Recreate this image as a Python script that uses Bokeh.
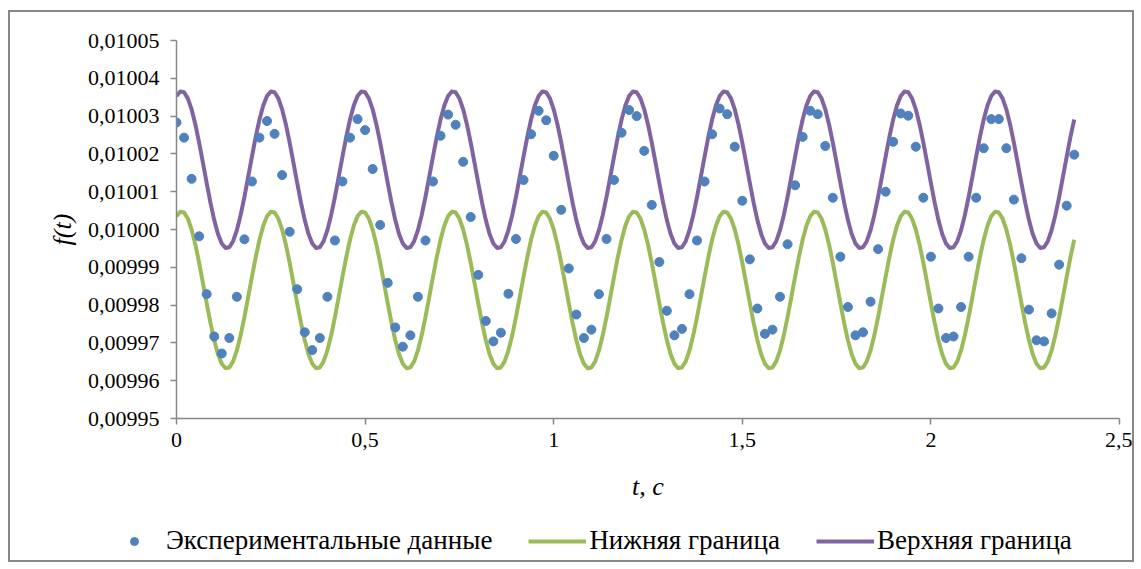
import numpy as np
from bokeh.plotting import figure
from bokeh.layouts import column
from bokeh.models import (Range1d, FixedTicker, CustomJSTickFormatter,
                          Legend, LegendItem, ColumnDataSource)
from bokeh.embed import file_html
from bokeh.resources import INLINE

# ---------------- data ----------------
t_points = np.round(np.arange(0, 2.381, 0.02), 2)   # experimental sample times, s
f_points = [
    0.0100283, 0.0100243, 0.0100134, 0.0099982, 0.0099829, 0.0099717, 0.0099672, 0.0099713, 0.0099822, 0.0099974,
    0.0100127, 0.0100243, 0.0100287, 0.0100253, 0.0100144, 0.0099994, 0.0099842, 0.0099728, 0.0099681, 0.0099713,
    0.0099822, 0.0099971, 0.0100127, 0.0100243, 0.0100292, 0.0100263, 0.0100160, 0.0100012, 0.0099859, 0.0099741,
    0.0099690, 0.0099720, 0.0099822, 0.0099971, 0.0100127, 0.0100248, 0.0100304, 0.0100277, 0.0100179, 0.0100033,
    0.0099880, 0.0099758, 0.0099704, 0.0099727, 0.0099830, 0.0099975, 0.0100131, 0.0100252, 0.0100314, 0.0100289,
    0.0100195, 0.0100052, 0.0099897, 0.0099775, 0.0099713, 0.0099735, 0.0099829, 0.0099975, 0.0100131, 0.0100256,
    0.0100316, 0.0100300, 0.0100208, 0.0100065, 0.0099914, 0.0099785, 0.0099720, 0.0099737, 0.0099829, 0.0099971,
    0.0100127, 0.0100252, 0.0100320, 0.0100305, 0.0100219, 0.0100076, 0.0099921, 0.0099791, 0.0099724, 0.0099735,
    0.0099822, 0.0099961, 0.0100117, 0.0100245, 0.0100314, 0.0100305, 0.0100221, 0.0100084, 0.0099928, 0.0099795,
    0.0099720, 0.0099728, 0.0099809, 0.0099948, 0.0100100, 0.0100232, 0.0100307, 0.0100301, 0.0100219, 0.0100084,
    0.0099928, 0.0099791, 0.0099713, 0.0099717, 0.0099795, 0.0099928, 0.0100084, 0.0100215, 0.0100292, 0.0100292,
    0.0100215, 0.0100079, 0.0099924, 0.0099788, 0.0099707, 0.0099704, 0.0099778, 0.0099907, 0.0100063, 0.0100198,
]

t_line = np.round(np.arange(0, 2.381, 0.01), 2)      # boundary curve times, s
f_upper = [
    0.0100353, 0.0100365, 0.0100363, 0.0100347, 0.0100318, 0.0100278, 0.0100230, 0.0100177, 0.0100123, 0.0100071, 0.0100025, 0.0099988,
    0.0099963, 0.0099951, 0.0099953, 0.0099969, 0.0099998, 0.0100038, 0.0100086, 0.0100139, 0.0100193, 0.0100245, 0.0100291, 0.0100328,
    0.0100353, 0.0100365, 0.0100363, 0.0100347, 0.0100318, 0.0100278, 0.0100230, 0.0100177, 0.0100123, 0.0100071, 0.0100025, 0.0099988,
    0.0099963, 0.0099951, 0.0099953, 0.0099969, 0.0099998, 0.0100038, 0.0100086, 0.0100139, 0.0100193, 0.0100245, 0.0100291, 0.0100328,
    0.0100353, 0.0100365, 0.0100363, 0.0100347, 0.0100318, 0.0100278, 0.0100230, 0.0100177, 0.0100123, 0.0100071, 0.0100025, 0.0099988,
    0.0099963, 0.0099951, 0.0099953, 0.0099969, 0.0099998, 0.0100038, 0.0100086, 0.0100139, 0.0100193, 0.0100245, 0.0100291, 0.0100328,
    0.0100353, 0.0100365, 0.0100363, 0.0100347, 0.0100318, 0.0100278, 0.0100230, 0.0100177, 0.0100123, 0.0100071, 0.0100025, 0.0099988,
    0.0099963, 0.0099951, 0.0099953, 0.0099969, 0.0099998, 0.0100038, 0.0100086, 0.0100139, 0.0100193, 0.0100245, 0.0100291, 0.0100328,
    0.0100353, 0.0100365, 0.0100363, 0.0100347, 0.0100318, 0.0100278, 0.0100230, 0.0100177, 0.0100123, 0.0100071, 0.0100025, 0.0099988,
    0.0099963, 0.0099951, 0.0099953, 0.0099969, 0.0099998, 0.0100038, 0.0100086, 0.0100139, 0.0100193, 0.0100245, 0.0100291, 0.0100328,
    0.0100353, 0.0100365, 0.0100363, 0.0100347, 0.0100318, 0.0100278, 0.0100230, 0.0100177, 0.0100123, 0.0100071, 0.0100025, 0.0099988,
    0.0099963, 0.0099951, 0.0099953, 0.0099969, 0.0099998, 0.0100038, 0.0100086, 0.0100139, 0.0100193, 0.0100245, 0.0100291, 0.0100328,
    0.0100353, 0.0100365, 0.0100363, 0.0100347, 0.0100318, 0.0100278, 0.0100230, 0.0100177, 0.0100123, 0.0100071, 0.0100025, 0.0099988,
    0.0099963, 0.0099951, 0.0099953, 0.0099969, 0.0099998, 0.0100038, 0.0100086, 0.0100139, 0.0100193, 0.0100245, 0.0100291, 0.0100328,
    0.0100353, 0.0100365, 0.0100363, 0.0100347, 0.0100318, 0.0100278, 0.0100230, 0.0100177, 0.0100123, 0.0100071, 0.0100025, 0.0099988,
    0.0099963, 0.0099951, 0.0099953, 0.0099969, 0.0099998, 0.0100038, 0.0100086, 0.0100139, 0.0100193, 0.0100245, 0.0100291, 0.0100328,
    0.0100353, 0.0100365, 0.0100363, 0.0100347, 0.0100318, 0.0100278, 0.0100230, 0.0100177, 0.0100123, 0.0100071, 0.0100025, 0.0099988,
    0.0099963, 0.0099951, 0.0099953, 0.0099969, 0.0099998, 0.0100038, 0.0100086, 0.0100139, 0.0100193, 0.0100245, 0.0100291, 0.0100328,
    0.0100353, 0.0100365, 0.0100363, 0.0100347, 0.0100318, 0.0100278, 0.0100230, 0.0100177, 0.0100123, 0.0100071, 0.0100025, 0.0099988,
    0.0099963, 0.0099951, 0.0099953, 0.0099969, 0.0099998, 0.0100038, 0.0100086, 0.0100139, 0.0100193, 0.0100245, 0.0100291,
]
f_lower = [
    0.0100035, 0.0100047, 0.0100045, 0.0100029, 0.0100000, 0.0099960, 0.0099912, 0.0099859, 0.0099805, 0.0099753, 0.0099707, 0.0099670,
    0.0099645, 0.0099633, 0.0099635, 0.0099651, 0.0099680, 0.0099720, 0.0099768, 0.0099821, 0.0099875, 0.0099927, 0.0099973, 0.0100010,
    0.0100035, 0.0100047, 0.0100045, 0.0100029, 0.0100000, 0.0099960, 0.0099912, 0.0099859, 0.0099805, 0.0099753, 0.0099707, 0.0099670,
    0.0099645, 0.0099633, 0.0099635, 0.0099651, 0.0099680, 0.0099720, 0.0099768, 0.0099821, 0.0099875, 0.0099927, 0.0099973, 0.0100010,
    0.0100035, 0.0100047, 0.0100045, 0.0100029, 0.0100000, 0.0099960, 0.0099912, 0.0099859, 0.0099805, 0.0099753, 0.0099707, 0.0099670,
    0.0099645, 0.0099633, 0.0099635, 0.0099651, 0.0099680, 0.0099720, 0.0099768, 0.0099821, 0.0099875, 0.0099927, 0.0099973, 0.0100010,
    0.0100035, 0.0100047, 0.0100045, 0.0100029, 0.0100000, 0.0099960, 0.0099912, 0.0099859, 0.0099805, 0.0099753, 0.0099707, 0.0099670,
    0.0099645, 0.0099633, 0.0099635, 0.0099651, 0.0099680, 0.0099720, 0.0099768, 0.0099821, 0.0099875, 0.0099927, 0.0099973, 0.0100010,
    0.0100035, 0.0100047, 0.0100045, 0.0100029, 0.0100000, 0.0099960, 0.0099912, 0.0099859, 0.0099805, 0.0099753, 0.0099707, 0.0099670,
    0.0099645, 0.0099633, 0.0099635, 0.0099651, 0.0099680, 0.0099720, 0.0099768, 0.0099821, 0.0099875, 0.0099927, 0.0099973, 0.0100010,
    0.0100035, 0.0100047, 0.0100045, 0.0100029, 0.0100000, 0.0099960, 0.0099912, 0.0099859, 0.0099805, 0.0099753, 0.0099707, 0.0099670,
    0.0099645, 0.0099633, 0.0099635, 0.0099651, 0.0099680, 0.0099720, 0.0099768, 0.0099821, 0.0099875, 0.0099927, 0.0099973, 0.0100010,
    0.0100035, 0.0100047, 0.0100045, 0.0100029, 0.0100000, 0.0099960, 0.0099912, 0.0099859, 0.0099805, 0.0099753, 0.0099707, 0.0099670,
    0.0099645, 0.0099633, 0.0099635, 0.0099651, 0.0099680, 0.0099720, 0.0099768, 0.0099821, 0.0099875, 0.0099927, 0.0099973, 0.0100010,
    0.0100035, 0.0100047, 0.0100045, 0.0100029, 0.0100000, 0.0099960, 0.0099912, 0.0099859, 0.0099805, 0.0099753, 0.0099707, 0.0099670,
    0.0099645, 0.0099633, 0.0099635, 0.0099651, 0.0099680, 0.0099720, 0.0099768, 0.0099821, 0.0099875, 0.0099927, 0.0099973, 0.0100010,
    0.0100035, 0.0100047, 0.0100045, 0.0100029, 0.0100000, 0.0099960, 0.0099912, 0.0099859, 0.0099805, 0.0099753, 0.0099707, 0.0099670,
    0.0099645, 0.0099633, 0.0099635, 0.0099651, 0.0099680, 0.0099720, 0.0099768, 0.0099821, 0.0099875, 0.0099927, 0.0099973, 0.0100010,
    0.0100035, 0.0100047, 0.0100045, 0.0100029, 0.0100000, 0.0099960, 0.0099912, 0.0099859, 0.0099805, 0.0099753, 0.0099707, 0.0099670,
    0.0099645, 0.0099633, 0.0099635, 0.0099651, 0.0099680, 0.0099720, 0.0099768, 0.0099821, 0.0099875, 0.0099927, 0.0099973,
]

y_ticks = [0.00995, 0.00996, 0.00997, 0.00998, 0.00999, 0.01000, 0.01001, 0.01002, 0.01003, 0.01004, 0.01005]
x_ticks = [0, 0.5, 1, 1.5, 2, 2.5]

series_names = ["Экспериментальные данные", "Нижняя граница", "Верхняя граница"]
x_title = "t, с"
y_title = "f(t)"

# ---------------- style ----------------
C_DOT = "#4F81BD"
C_LOW = "#9BBB59"
C_UP = "#8064A2"
AX = "#868686"
FONT = "Liberation Serif"

p = figure(width=1122, height=498, output_backend="svg", toolbar_location=None,
           x_range=Range1d(0, 2.5), y_range=Range1d(0.00995, 0.01005),
           min_border_left=166, min_border_right=13, min_border_top=28, min_border_bottom=92)
p.outline_line_color = None
p.grid.visible = False
p.background_fill_color = "white"
p.border_fill_color = "white"

for ax in (p.xaxis[0], p.yaxis[0]):
    ax.axis_line_color = AX
    ax.axis_line_width = 1.5
    ax.major_tick_line_color = AX
    ax.major_tick_line_width = 1.5
    ax.major_tick_in = 0
    ax.major_tick_out = 6
    ax.minor_tick_line_color = None
    ax.major_label_text_font = FONT
    ax.major_label_text_font_size = "22px"
    ax.major_label_text_color = "black"
    ax.axis_label_text_font = FONT
    ax.axis_label_text_font_size = "26px"
    ax.axis_label_text_font_style = "italic"
    ax.axis_label_text_color = "black"

p.yaxis.ticker = FixedTicker(ticks=y_ticks)
p.xaxis.ticker = FixedTicker(ticks=x_ticks)
p.yaxis.formatter = CustomJSTickFormatter(code="return tick.toFixed(5).replace('.', ',');")
p.xaxis.formatter = CustomJSTickFormatter(
    code="var s = (Math.round(tick*10)/10).toString(); return s.replace('.', ',');")
p.yaxis.major_label_standoff = 11
p.xaxis.major_label_standoff = 8
p.xaxis.axis_label = x_title
p.yaxis.axis_label = y_title
p.xaxis.axis_label_standoff = 22
p.yaxis.axis_label_standoff = 8

src_dots = ColumnDataSource(dict(t=t_points, f=f_points))
src_line = ColumnDataSource(dict(t=t_line, lo=f_lower, up=f_upper))

p.line("t", "lo", source=src_line, line_color=C_LOW, line_width=4, line_join="round")
p.line("t", "up", source=src_line, line_color=C_UP, line_width=4, line_join="round")
p.scatter("t", "f", source=src_dots, size=9, fill_color=C_DOT, line_color=C_DOT)

# ---------------- legend strip ----------------
pl = figure(width=1122, height=50, output_backend="svg", toolbar_location=None,
            x_range=Range1d(0, 1), y_range=Range1d(0, 1),
            x_axis_type=None, y_axis_type=None, min_border=0)
pl.outline_line_color = None
pl.grid.visible = False
for fig in (p, pl):
    try:
        fig.frame_align = False
    except Exception:
        pass

nan = float("nan")
r_dot = pl.scatter(x=[nan], y=[nan], size=7, fill_color=C_DOT, line_color=C_DOT)
r_low = pl.line(x=[nan], y=[nan], line_color=C_LOW, line_width=4)
r_up = pl.line(x=[nan], y=[nan], line_color=C_UP, line_width=4)

legend = Legend(items=[LegendItem(label=series_names[0], renderers=[r_dot]),
                       LegendItem(label=series_names[1], renderers=[r_low]),
                       LegendItem(label=series_names[2], renderers=[r_up])],
                location=(95, 4), orientation="horizontal",
                glyph_width=58, glyph_height=20, label_standoff=3, spacing=36,
                padding=0, margin=0, border_line_color=None, background_fill_alpha=0,
                label_text_font=FONT, label_text_font_size="27px", label_text_color="black")
pl.add_layout(legend, "center")

layout = column(p, pl, spacing=0)
layout.styles = {"border": "2px solid #878787", "margin-left": "8px", "margin-top": "10px"}

open("out.html", "w").write(file_html(layout, INLINE))
